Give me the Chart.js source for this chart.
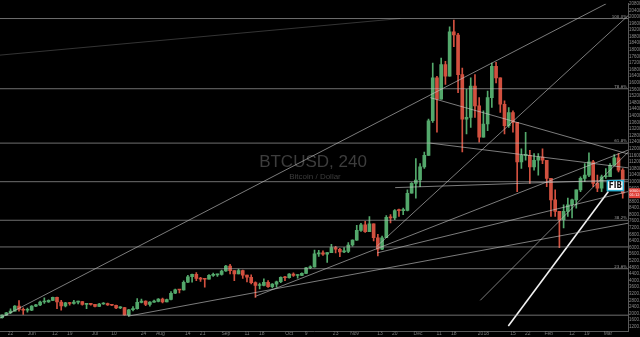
<!DOCTYPE html>
<html>
<head>
<meta charset="utf-8">
<script src="https://cdn.jsdelivr.net/npm/chart.js@4.4.1/dist/chart.umd.min.js"></script>
<style>
  html, body { margin: 0; padding: 0; background: #000; }
  #wrap { width: 640px; height: 337px; }
</style>
</head>
<body>
<div id="wrap"><canvas id="btcChart" width="640" height="337"></canvas></div>
<script>
// BTCUSD, 2-day candles. Day 0 = 17 May 2017
const firstOpen = 1750;
const closes = [
  1900, 2050, 2150, 2450, 2250, 2200, 2200, 2450, 2530, 2700,
  2700, 2800, 2980, 2700, 2460, 2650, 2610, 2690, 2720, 2560,
  2580, 2560, 2430, 2580, 2600, 2520, 2500, 2340, 2360, 1920,
  2230, 2300, 2680, 2750, 2550, 2690, 2730, 2870, 2710, 2850,
  3230, 3440, 3430, 3900, 4230, 4380, 4130, 4090, 4080, 4320,
  4350, 4380, 4580, 4880, 4600, 4400, 4600, 4330, 4200, 3880,
  3700, 3700, 3900, 3630, 3780, 3930, 4200, 4170, 4400, 4310,
  4320, 4440, 4780, 4830, 5620, 5690, 5600, 5700, 6000, 5900,
  5740, 5770, 6160, 6450, 7050, 7380, 6970, 7450, 6600, 5900,
  6600, 7830, 7800, 8250, 8240, 8250, 9300, 9900, 10100, 10900,
  11600, 13700, 16300, 15000, 17100, 16400, 19100, 18900, 16500, 13800,
  13900, 15800, 14600, 12700, 13500, 15100, 17000, 16300, 14700, 13400,
  14200, 13600, 11200, 11600, 11600, 10900, 11300, 11500, 11300, 10200,
  8900, 8200, 7700, 8200, 8600, 8900, 9500, 10200, 10400, 11200,
  9900, 9600, 10300, 10300, 11000, 11450, 10700, 9300
];
const highs = [
  1920, 2080, 2280, 2480, 2790, 2350, 2330, 2480, 2560, 2750,
  2950, 2830, 3000, 3000, 2800, 2680, 2680, 2800, 2760, 2730,
  2600, 2620, 2560, 2620, 2670, 2630, 2560, 2520, 2420, 2380,
  2250, 2420, 2900, 2880, 2770, 2720, 2820, 2900, 2940, 2880,
  3330, 3480, 3450, 3980, 4320, 4400, 4480, 4200, 4100, 4360,
  4460, 4400, 4640, 4920, 4980, 4600, 4700, 4640, 4330, 4350,
  3920, 3850, 4100, 4000, 3820, 3970, 4230, 4250, 4420, 4470,
  4370, 4470, 4800, 4900, 5850, 5840, 5800, 5720, 6200, 6080,
  5950, 6000, 6300, 6470, 7350, 7470, 7600, 7880, 7450, 6800,
  6700, 7950, 8000, 8300, 8340, 8400, 9500, 9950, 11400, 11100,
  11800, 13800, 17200, 16400, 17500, 17300, 19400, 19800, 19000, 16900,
  15600, 16300, 16500, 15100, 14300, 15500, 17200, 17250, 16300, 14900,
  14500, 14300, 13600, 12000, 13000, 11900, 11700, 11700, 12000, 11300,
  10200, 9500, 8200, 8600, 9000, 8950, 9500, 10300, 11100, 11750,
  11300, 10400, 10400, 10800, 11100, 11650, 11700, 10800
];
const lows = [
  1720, 1890, 1990, 2150, 2150, 1950, 2080, 2170, 2420, 2480,
  2620, 2680, 2780, 2300, 2200, 2400, 2500, 2570, 2580, 2500,
  2300, 2500, 2400, 2410, 2550, 2490, 2480, 2300, 2290, 1900,
  1840, 2160, 2260, 2650, 2480, 2450, 2680, 2700, 2650, 2700,
  2830, 3200, 3250, 3420, 3880, 3900, 4000, 3950, 3600, 4080,
  4250, 4250, 4330, 4560, 4400, 4000, 4400, 4130, 3920, 3800,
  2980, 3500, 3680, 3580, 3550, 3600, 3870, 4000, 4150, 4250,
  4150, 4300, 4420, 4720, 4820, 5460, 5520, 5100, 5700, 5680,
  5450, 5700, 5700, 6080, 6430, 6980, 6920, 6970, 6400, 5500,
  5880, 6600, 7500, 7700, 7900, 8000, 8230, 9300, 9000, 9700,
  10800, 11600, 13600, 13000, 15000, 15900, 16400, 18200, 15400, 11800,
  12900, 13300, 13900, 12400, 12700, 13100, 14500, 16000, 14200, 12900,
  13300, 13000, 9400, 10800, 11300, 9900, 10700, 10400, 11100, 9700,
  7900, 7900, 6000, 7200, 7900, 7800, 8400, 9400, 10000, 10300,
  9700, 9400, 9400, 10200, 10300, 11000, 10600, 9000
];

// x axis labels (day offsets from 17 May 2017)
const tickDays = [5, 15, 26, 33, 45, 54, 68, 76, 89, 96, 107, 117, 124, 137, 145, 159,
  168, 180, 187, 198, 208, 215, 229, 243, 250, 260, 271, 278, 288];
const tickLabels = ['22', 'Jun', '12', '19', 'Jul', '10', '24', 'Aug', '14', '21', 'Sep', '11', '18', 'Oct', '9', '23',
  'Nov', '13', '20', 'Dec', '11', '18', '2018', '15', '22', 'Feb', '12', '19', 'Mar'];

// y axis labels every 400
const priceStep = 400;

// horizontal fib levels and their small labels
const fibPrices = [19900, 15640, 12340, 10000, 7660, 6040, 4720, 1900];
const fibLabels = ['100.0%', '78.6%', '61.8%', '', '38.2%', '', '23.6%', ''];

// drawn trend lines: [fromDay, fromPrice, toDay, toPrice]
const trendLines = [
  [0, 1720, 287.2, 20800],
  [178.7, 6100, 298.6, 20200],
  [203.8, 15100, 297.6, 11680],
  [203.8, 12340, 297.6, 10840],
  [187.2, 9640, 297.6, 10120],
  [120.9, 3040, 297.6, 11920],
  [60.7, 1840, 297.6, 7480],
  [178.7, 5680, 297.6, 9400],
  [227.5, 2800, 297.6, 11800]
];
const channelLine = [240.8, 1240, 288.2, 9400];
const topLine = [0, 17680, 189.6, 19900];

const fibNoteDay = 291.5;
const fibNotePrice = 9760;

const UP = '#53a86b';
const DOWN = '#d2503f';

const xMax = 297.5;

// build candle pieces
const opens = closes.map((c, i) => i === 0 ? firstOpen : closes[i - 1]);
const candleDays = closes.map((c, i) => i * 2 + 1);
const candleColors = closes.map((c, i) => c >= opens[i] ? UP : DOWN);
const wickData = closes.map((c, i) => ({ x: candleDays[i], y: [lows[i], highs[i]] }));
const bodyData = closes.map((c, i) => ({ x: candleDays[i], y: [opens[i], c] }));

function lineSet(l, color, width) {
  return {
    type: 'line',
    data: [{ x: l[0], y: l[1] }, { x: l[2], y: l[3] }],
    borderColor: color,
    borderWidth: width,
    pointRadius: 0,
    fill: false,
    order: 0
  };
}

const datasets = [
  { type: 'bar', data: wickData, backgroundColor: candleColors, barThickness: 1, grouped: false, order: 2 },
  { type: 'bar', data: bodyData, backgroundColor: candleColors, barThickness: 3, grouped: false, minBarLength: 1, order: 1 }
];
fibPrices.forEach(p => datasets.push(lineSet([0, p, xMax, p], 'rgba(185,185,185,0.6)', 1)));
trendLines.forEach(l => datasets.push(lineSet(l, 'rgba(205,205,205,0.6)', 1)));
datasets.push(lineSet(channelLine, 'rgba(255,255,255,0.95)', 1.6));
datasets.push(lineSet(topLine, 'rgba(150,150,150,0.35)', 1));

const watermark = {
  id: 'watermark',
  beforeDatasetsDraw(chart) {
    const ctx = chart.ctx;
    ctx.save();
    ctx.fillStyle = '#3d3d3d';
    ctx.textAlign = 'center';
    ctx.textBaseline = 'alphabetic';
    ctx.font = '17px "Liberation Sans", Arial, sans-serif';
    ctx.fillText('BTCUSD, 240', 313, 167);
    ctx.font = '8px "Liberation Sans", Arial, sans-serif';
    ctx.fillText('Bitcoin / Dollar', 315, 179);
    ctx.restore();
  }
};

const extras = {
  id: 'extras',
  afterDraw(chart) {
    const ctx = chart.ctx;
    const xs = chart.scales.x;
    const ys = chart.scales.y;
    const area = chart.chartArea;
    ctx.save();

    // fib level labels
    ctx.font = '4px "DejaVu Sans", sans-serif';
    ctx.fillStyle = '#9a9a9a';
    ctx.textAlign = 'right';
    fibPrices.forEach((p, i) => {
      if (!fibLabels[i]) return;
      ctx.fillText(fibLabels[i], area.right - 1, ys.getPixelForValue(p) - 1);
    });

    // FIB note
    const fx = xs.getPixelForValue(fibNoteDay);
    const fy = ys.getPixelForValue(fibNotePrice);
    ctx.fillStyle = '#ffffff';
    ctx.fillRect(fx - 8, fy - 5, 16, 10);
    ctx.strokeStyle = '#2fb3d3';
    ctx.lineWidth = 1.5;
    ctx.strokeRect(fx - 8, fy - 5, 16, 10);
    ctx.fillStyle = '#111';
    ctx.textAlign = 'center';
    ctx.textBaseline = 'middle';
    ctx.font = 'bold 8px "DejaVu Sans Condensed", "DejaVu Sans", sans-serif';
    ctx.fillText('FIB', fx, fy + 0.5);

    // last price label
    const last = closes[closes.length - 1];
    const py = ys.getPixelForValue(last);
    ctx.fillStyle = '#e0413a';
    ctx.fillRect(area.right + 1, py - 5, 11, 10);
    ctx.fillStyle = '#fff';
    ctx.font = '3.5px "DejaVu Sans", sans-serif';
    ctx.textAlign = 'left';
    ctx.fillText(last.toFixed(1), area.right + 1.5, py - 2);
    ctx.fillText('01:12:40', area.right + 1.5, py + 2);
    ctx.restore();
  }
};

new Chart(document.getElementById('btcChart'), {
  type: 'bar',
  data: { datasets: datasets },
  options: {
    responsive: false,
    animation: false,
    devicePixelRatio: 1,
    layout: { padding: 0 },
    plugins: {
      legend: { display: false },
      tooltip: { enabled: false }
    },
    scales: {
      x: {
        type: 'linear',
        min: 0,
        max: xMax,
        offset: false,
        grid: { display: false, drawTicks: false },
        border: { display: true, color: '#5a5a5a' },
        ticks: {
          font: { size: 5 },
          color: '#7a7a7a',
          padding: 0,
          maxRotation: 0,
          autoSkip: false,
          callback: (v, i) => tickLabels[i]
        },
        afterBuildTicks(s) { s.ticks = tickDays.map(d => ({ value: d })); },
        afterFit(s) { s.height = 6; }
      },
      y: {
        position: 'right',
        min: 940,
        max: 20800,
        grid: { display: false, drawTicks: false },
        border: { display: true, color: '#5a5a5a' },
        ticks: {
          autoSkip: false,
          font: { size: 4.5 },
          color: '#8a8a8a',
          padding: 1,
          callback: v => v.toFixed(1)
        },
        afterBuildTicks(s) {
          const list = [];
          for (let v = Math.ceil(s.min / priceStep) * priceStep; v <= s.max; v += priceStep) list.push({ value: v });
          s.ticks = list;
        },
        afterFit(s) { s.width = 12; }
      }
    }
  },
  plugins: [watermark, extras]
});
</script>
</body>
</html>
